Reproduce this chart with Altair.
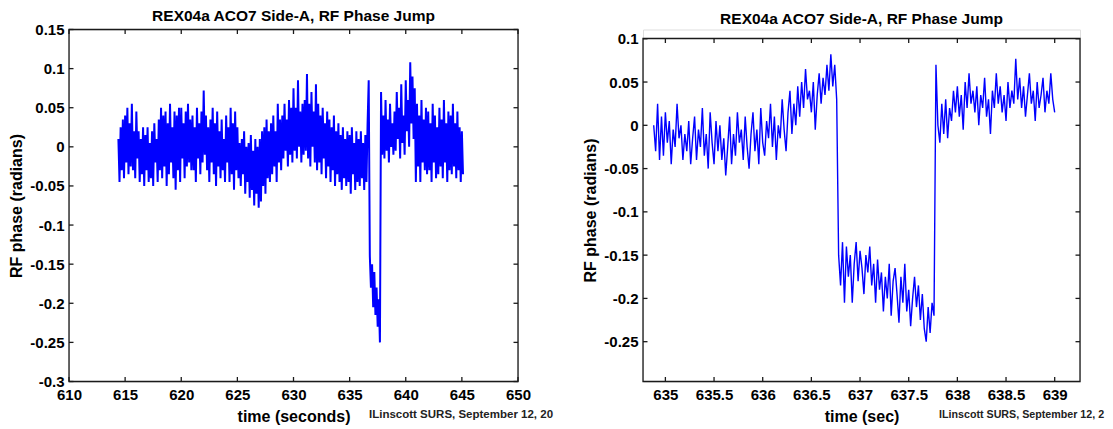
import altair as alt
import pandas as pd

FONT = "Liberation Sans"
TITLE = "REX04a ACO7 Side-A, RF Phase Jump"
CREDIT = "ILinscott SURS, September 12, 2014"

# ---------------- left panel: long record (time in s, phase in milliradians) ----------------
left_t0 = 614.4
left_dt = 0.1
left_phase_mrad = [
    10, -45, 25, -30, 35, -40,
    40, -20, 50, -35, 30, -25, 55, -30, 20, -40,
    45, -15, 20, -45, 10, -35, 25, -50, 15, -30,
    25, -45, 5, -40, 20, -50, 30, -20, 10, -45,
    35, -30, 50, -40, 40, -25, 45, -50, 30, -35,
    55, -20, 25, -40, 45, -55, 40, -30, 50, -45,
    50, -15, 30, -40, 45, -25, 55, -20, 35, -30,
    40, -30, 25, -45, 50, -15, 30, -35, 45, -20,
    72, -10, 40, -30, 25, -45, 35, -20, 50, -35,
    30, -50, 45, -25, 20, -40, 35, -30, 10, -45,
    40, -20, 25, -45, 50, -35, 30, -55, 45, -30,
    25, -40, 5, -50, 10, -35, 20, -60, 0, -45,
    5, -65, 15, -55, -5, -75, 10, -60, 0, -78,
    10, -70, 20, -50, 25, -60, 35, -40, 20, -45,
    30, -35, 40, -25, 20, -45, 55, -20, 35, -30,
    40, -15, 55, -5, 35, -25, 60, -10, 50, -20,
    75, -5, 50, -15, 85, 0, 45, -20, 55, -10,
    60, -5, 93, -15, 55, -25, 70, 0, 45, -20,
    80, -30, 55, -20, 40, -35, 50, -15, 30, -40,
    45, -25, 35, -45, 25, -30, 40, -50, 20, -35,
    30, -45, 15, -55, 25, -40, 10, -50, 20, -45,
    15, -60, 25, -35, 5, -55, 20, -45, 10, -50,
    20, -40, 5, -55, 15, -45, 30, 85, -140, -180,
    -150, -205, -160, -215, -180, -230, -195, -250, 70, -10,
    40, -15, 60, -5, 35, -20, 55, 0, 30, -10,
    45, -5, 70, 10, 50, -15, 80, 5, 40, -10,
    85, 20, 60, 0, 108, 30, 90, 10, 75, -45,
    55, -25, 40, -45, 60, -20, 35, -30, 50, -35,
    45, -30, 30, -45, 55, -20, 40, -40, 25, -35,
    50, -25, 35, -40, 60, -20, 30, -45, 45, -30,
    40, -35, 55, -25, 30, -40, 45, -30, 25, -45,
    20, -35,
]

# ---------------- right panel: zoom on the jump ----------------
right_t0 = 634.88
right_dt = 0.02
right_phase_mrad = [
    0, -30, 25, -40, 10,
    -35, 15, -20, 5, -45,
    -5, -25, 25, -15, 0,
    -40, -10, -30, 5, -45,
    -15, 10, -40, -5, -25,
    20, -35, -10, -50, 15,
    -20, -45, 5, -30, 0,
    -40, -15, -58, -25, 10,
    -45, -10, -35, 15, -20,
    -5, -40, 10, -25, -50,
    -10, 15, -30, -5, -45,
    20, -20, -35, 5, -15,
    25, -25, 10, -40, 0,
    -15, 30, -5, -30, 15,
    40, -10, 25, 0, 45,
    10, 50, 20, 65, 30,
    40, 15, 50, -5, 35,
    60, 25, 55, 35, 70,
    40, 82, 45, 70, 30,
    -150, -185, -135, -205, -140,
    -175, -150, -205, -160, -135,
    -180, -145, -165, -195, -150,
    -170, -140, -185, -160, -205,
    -155, -190, -170, -215, -175,
    -200, -160, -220, -180, -165,
    -195, -228, -175, -205, -160,
    -215, -190, -232, -200, -175,
    -210, -185, -225, -195, -235,
    -250, -210, -240, -205, -220,
    70, 0, -20, 25, -10,
    30, -15, 20, 5, 40,
    15, 45, 10, 35, -5,
    50, 20, 60, 25, 40,
    15, 45, 0, 35, 20,
    55, 10, 30, -10, 40,
    20, 60, 25, 45, 15,
    35, 5, 50, 20, 40,
    25, 77, 30, 55, 20,
    45, 10, 35, 60, 25,
    40, 5, 50, 20, 35,
    55, 15, 40, 25, 60,
    30, 15,
]

left_xticks = [610, 615, 620, 625, 630, 635, 640, 645, 650]
left_yticks = [-0.3, -0.25, -0.2, -0.15, -0.1, -0.05, 0, 0.05, 0.1, 0.15]
right_xticks = [635, 635.5, 636, 636.5, 637, 637.5, 638, 638.5, 639]
right_yticks = [-0.25, -0.2, -0.15, -0.1, -0.05, 0, 0.05, 0.1]


def series(t0, dt, mrad):
    return pd.DataFrame({
        "t": [round(t0 + dt * i, 4) for i in range(len(mrad))],
        "phase": [v / 1000.0 for v in mrad],
    })


def panel(df, xdom, ydom, xticks, yticks, w, h, box_top, xtitle, title_y,
          credit_x, credit_y, credit_size, credit_limit, line_width):
    ax_common = dict(
        grid=False, domain=False, ticks=False, tickSize=0,
        labelFont=FONT, labelFontSize=15, labelFontWeight="bold", labelColor="black",
        titleFont=FONT, titleFontSize=16, titleFontWeight="bold", titleColor="black",
        labelFlush=False, labelOverlap=False, labelExpr="'' + datum.value",
    )
    x = alt.X("t:Q", scale=alt.Scale(domain=xdom, nice=False, zero=False),
              axis=alt.Axis(values=xticks, title=xtitle, labelPadding=5.5,
                            titlePadding=6.5, **ax_common))
    y = alt.Y("phase:Q", scale=alt.Scale(domain=ydom, range=[h, box_top], nice=False, zero=False),
              axis=alt.Axis(values=yticks, title="RF phase (radians)", labelPadding=5,
                            titlePadding=5, **ax_common))

    line = alt.Chart(df).mark_line(color="#0000ff", strokeWidth=line_width, clip=True).encode(x=x, y=y)

    box = alt.Chart(pd.DataFrame({"b": [0]})).mark_rect(
        fillOpacity=0, stroke="#1a1a1a", strokeWidth=1.3
    ).encode(x=alt.value(0), x2=alt.value(w), y=alt.value(box_top), y2=alt.value(h))

    xt = pd.DataFrame({"t": xticks})
    yt = pd.DataFrame({"phase": yticks})
    tl = 4.5
    tick_style = dict(color="#1a1a1a", strokeWidth=1.3)
    bot = alt.Chart(xt).mark_rule(**tick_style).encode(x=x, y=alt.value(h), y2=alt.value(h - tl))
    top = alt.Chart(xt).mark_rule(**tick_style).encode(x=x, y=alt.value(box_top), y2=alt.value(box_top + tl))
    lft = alt.Chart(yt).mark_rule(**tick_style).encode(y=y, x=alt.value(0), x2=alt.value(tl))
    rgt = alt.Chart(yt).mark_rule(**tick_style).encode(y=y, x=alt.value(w), x2=alt.value(w - tl))

    title = alt.Chart(pd.DataFrame({"s": [TITLE]})).mark_text(
        font=FONT, fontSize=15.5, fontWeight="bold", color="black",
        align="center", baseline="alphabetic",
    ).encode(text="s:N", x=alt.value(w / 2), y=alt.value(title_y))

    credit_kw = dict(font=FONT, fontSize=credit_size, fontWeight="bold", color="#222222",
                     align="left", baseline="middle", limit=credit_limit, ellipsis="\u200b")
    credit = alt.Chart(pd.DataFrame({"s": [CREDIT]})).mark_text(**credit_kw).encode(
        text="s:N", x=alt.value(credit_x), y=alt.value(credit_y))

    return alt.layer(line, box, bot, top, lft, rgt, title, credit).properties(width=w, height=h)


left = panel(series(left_t0, left_dt, left_phase_mrad), [610, 650], [-0.3, 0.15],
             left_xticks, left_yticks, 449, 352, 0, "time (seconds)", -8.5,
             300, 385, 11.5, 188, 2.0)
right = panel(series(right_t0, right_dt, right_phase_mrad), [634.77, 639.26], [-0.296, 0.1003],
              right_xticks, right_yticks, 437, 352, 9, "time (sec)", -6,
              296, 385.7, 10.7, 166, 1.4)

chart = alt.hconcat(left, right, spacing=28).properties(
    padding={"left": 0, "top": 0.5, "right": 0, "bottom": 0}
).configure_view(stroke="transparent", strokeWidth=0).configure(background="white")

chart.save("out.html", embed_options={"renderer": "svg", "actions": False})
